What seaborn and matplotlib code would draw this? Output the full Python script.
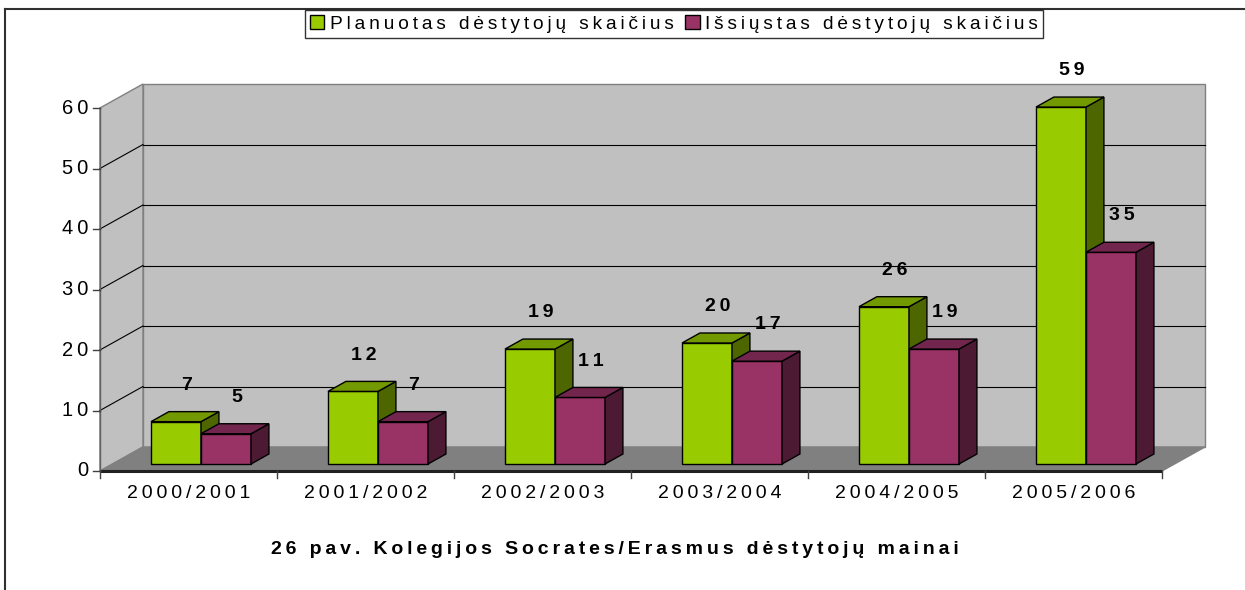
import numpy as np
import pandas as pd
import matplotlib
matplotlib.use("Agg")
import matplotlib.pyplot as plt
from matplotlib.patches import Polygon, Patch
from matplotlib.lines import Line2D
import matplotlib.colors as mcolors
import seaborn as sns

# ---------------- data ----------------
categories = ["2000/2001", "2001/2002", "2002/2003", "2003/2004", "2004/2005", "2005/2006"]
planned = [7, 12, 19, 20, 26, 59]
sent = [5, 7, 11, 17, 19, 35]
series_names = ["Planuotas dėstytojų skaičius", "Išsiųstas dėstytojų skaičius"]
series_colors = ["#99cc00", "#993366"]
y_ticks = [0, 10, 20, 30, 40, 50, 60]
title = "26 pav. Kolegijos Socrates/Erasmus dėstytojų mainai"

df = pd.DataFrame({
    "category": categories * 2,
    "value": planned + sent,
    "series": [series_names[0]] * len(categories) + [series_names[1]] * len(categories),
})

plt.rcParams["font.family"] = ["Liberation Sans", "DejaVu Sans"]
SEP = "\u2009"


def spaced(s, sep=SEP):
    return sep.join(s)


W, H = 1245, 590
fig = plt.figure(figsize=(W / 100, H / 100), dpi=100)
ax = fig.add_axes([0, 0, 1, 1])

# pixel scale of the chart
PX_CAT = 177.0      # px per category
PX_VAL = 6.05       # px per unit
X0_PX = 201.0       # pixel x of category 0 center (bar plane)
Y0_PX = 464.0       # pixel y of value 0 (bar plane)

sns.barplot(data=df, x="category", y="value", hue="series", order=categories,
            hue_order=series_names, palette=series_colors, saturation=1,
            width=100 / PX_CAT, gap=0, edgecolor="black", linewidth=1.0,
            legend=False, ax=ax, zorder=3)
bars = list(ax.patches)

ax.set_xlim(-X0_PX / PX_CAT, (W - X0_PX) / PX_CAT)
ax.set_ylim((Y0_PX - H) / PX_VAL, Y0_PX / PX_VAL)
ax.axis("off")

# depth geometry (in data units)
DX = 43 / PX_CAT
DY = 24 / PX_VAL
T0 = 7 / 24        # depth of bar front plane
TB = 10 / 24       # bar depth fraction


def P(i, v, t):
    return (i + (t - T0) * DX, v + (t - T0) * DY)


xl, xr = -0.5, len(categories) - 0.5
vmax = y_ticks[-1]
wall_c = "#c0c0c0"
edge_c = "#808080"

ax.add_patch(Polygon([P(xl, 0, 1), P(xr, 0, 1), P(xr, vmax, 1), P(xl, vmax, 1)],
                     closed=True, fc=wall_c, ec=edge_c, lw=1.0, zorder=0.5))
ax.add_patch(Polygon([P(xl, 0, 0), P(xl, 0, 1), P(xl, vmax, 1), P(xl, vmax, 0)],
                     closed=True, fc=wall_c, ec=edge_c, lw=1.0, zorder=0.5))
ax.add_patch(Polygon([P(xl, 0, 0), P(xr, 0, 0), P(xr, 0, 1), P(xl, 0, 1)],
                     closed=True, fc="#808080", ec="#808080", lw=1.0, zorder=0.6))

for v in y_ticks[1:-1]:
    a, b = P(xl, v, 1), P(xr, v, 1)
    ax.plot([a[0], b[0]], [a[1], b[1]], color="black", lw=0.8, zorder=1)
    a, b = P(xl, v, 0), P(xl, v, 1)
    ax.plot([a[0], b[0]], [a[1], b[1]], color="black", lw=0.8, zorder=1)

# front axes
a, b = P(xl, 0, 0), P(xr, 0, 0)
ax.plot([a[0], b[0]], [a[1], b[1]], color="#202020", lw=2.2, zorder=2, solid_capstyle="butt")
a, b = P(xl, 0, 0), P(xl, vmax, 0)
ax.plot([a[0], b[0]], [a[1], b[1]], color="#606060", lw=1.0, zorder=2)

tick_dx = 7 / PX_CAT
for v in y_ticks:
    x, y = P(xl, v, 0)
    ax.plot([x - tick_dx, x], [y, y], color="#404040", lw=1.0, zorder=2)
    ax.text(x - 12 / PX_CAT, y, spaced(str(v)), ha="right", va="center",
            fontsize=14.5, color="black")

tick_dy = 7 / PX_VAL
for k in range(len(categories) + 1):
    x, y = P(xl + k, 0, 0)
    ax.plot([x, x], [y, y - tick_dy], color="#404040", lw=1.0, zorder=2)
for k, c in enumerate(categories):
    x, y = P(k, 0, 0)
    ax.text(x, y - 23 / PX_VAL, spaced(c), ha="center", va="center",
            fontsize=14, color="black")

# 3D faces of bars
bdx, bdy = TB * DX, TB * DY
rgb_list = [np.array(mcolors.to_rgb(c)) for c in series_colors]
for p in bars:
    fc = np.array(p.get_facecolor()[:3])
    hidx = int(np.argmin([np.abs(fc - c).sum() for c in rgb_list]))
    z = 3 + hidx
    p.set_zorder(z)
    x0, w, h = p.get_x(), p.get_width(), p.get_height()
    top = Polygon([(x0, h), (x0 + w, h), (x0 + w + bdx, h + bdy), (x0 + bdx, h + bdy)],
                  closed=True, fc=fc * 0.75, ec="black", lw=1.0, zorder=z)
    side = Polygon([(x0 + w, 0), (x0 + w + bdx, bdy), (x0 + w + bdx, h + bdy), (x0 + w, h)],
                   closed=True, fc=fc * 0.5, ec="black", lw=1.0, zorder=z)
    ax.add_patch(side)
    ax.add_patch(top)
    ax.text(x0 + w / 2 + 0.6 * bdx, h + 6, spaced(f"{h:.0f}"), ha="center", va="center",
            fontsize=14, fontweight="bold", color="black", zorder=6)

# legend
handles = [Patch(facecolor=c, edgecolor="black", linewidth=1.0) for c in series_colors]
leg = fig.legend(handles, [spaced(s) for s in series_names], loc="center",
                 bbox_to_anchor=(674 / W, 1 - 24 / H), ncol=2, frameon=True,
                 fancybox=False, edgecolor="black", handlelength=0.75, handleheight=0.75,
                 handletextpad=0.3, columnspacing=0.6, borderpad=0.25, borderaxespad=0,
                 fontsize=13.8)
leg.get_frame().set_linewidth(1.0)

# title
fig.text(615 / W, 1 - 550 / H, spaced(title), ha="center", va="center",
         fontsize=14, fontweight="bold", color="black")

# outer frame (left and top)
fig.add_artist(Line2D([5 / W, 5 / W], [0, 1 - 9 / H], color="#303030", lw=1.5))
fig.add_artist(Line2D([5 / W, 1], [1 - 9 / H, 1 - 9 / H], color="#303030", lw=1.5))

fig.savefig("out.png", dpi=100)
